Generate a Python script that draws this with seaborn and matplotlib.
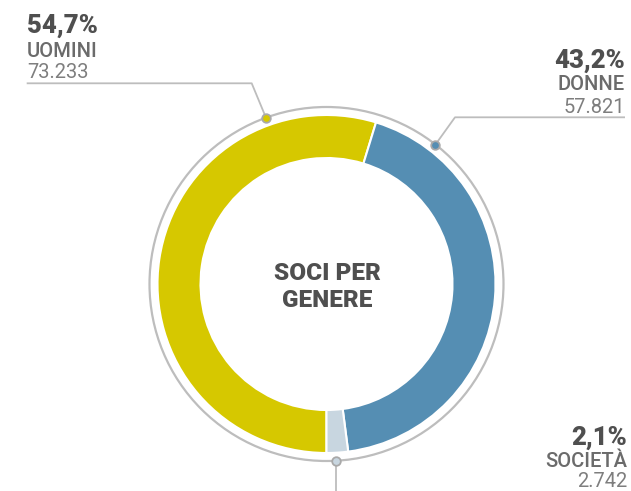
import numpy as np
import matplotlib
matplotlib.use("Agg")
import matplotlib.pyplot as plt
import seaborn as sns

# Soci per genere
categorie = ["UOMINI", "DONNE", "SOCIETÀ"]
soci = [73233, 57821, 2742]
percentuali = ["54,7%", "43,2%", "2,1%"]
numeri = ["73.233", "57.821", "2.742"]
colori = ["#D6C800", "#558EB3", "#C8D6E0"]

sns.set_theme(style="white")
plt.rcParams["font.family"] = ["Roboto", "DejaVu Sans"]

W, H = 631, 491
fig = plt.figure(figsize=(W / 100, H / 100), dpi=100)
ax = fig.add_axes([0, 0, 1, 1])

cx, cy = 326.5, H - 284
r_out, r_in = 169, 126

ax.pie(soci, colors=colori, radius=r_out, center=(cx, cy), startangle=-90,
       counterclock=False, frame=True,
       wedgeprops=dict(width=r_out - r_in, edgecolor="white", linewidth=1.5))
ax.set_xlim(0, W)
ax.set_ylim(0, H)
ax.set_aspect("equal")
ax.axis("off")

# thin outer ring
r_ring = 177
ring = plt.Circle((cx, cy), r_ring, fill=False, edgecolor="#BDBDBD", lw=1.6, zorder=3)
ax.add_patch(ring)

line_col = "#BDBDBD"

def on_ring(deg_cw_from_top):
    a = np.deg2rad(deg_cw_from_top)
    return cx + r_ring * np.sin(a), cy + r_ring * np.cos(a)

# leader lines: (angle on ring, elbow point, end point)
guide = [
    (-20, (251.7, H - 83.3), (26.7, H - 83.3)),
    (38, (455, H - 117.3), (625, H - 117.3)),
    (177, None, None),
]
for (ang, elbow, end), col in zip(guide, colori):
    px, py = on_ring(ang)
    if elbow is not None:
        ax.plot([px, elbow[0], end[0]], [py, elbow[1], end[1]], color=line_col, lw=1.3,
                zorder=2, solid_capstyle="butt")
    else:
        ax.plot([px, px], [py, 0], color=line_col, lw=1.3, zorder=2)
    ax.scatter([px], [py], s=38, color=col, edgecolor="#A9A9A9", linewidth=1.3, zorder=5)

# labels
dark, mid, light = "#4F4F4F", "#6B6B6B", "#7E7E7E"
blocks = [
    (27, "left", (33, 57, 78)),
    (625, "right", (68, 90, 113)),
    (627, "right", (445, 467, 487)),
]
for (x, ha, (b1, b2, b3)), p, c, n in zip(blocks, percentuali, categorie, numeri):
    ax.text(x, H - b1, p, ha=ha, va="baseline", fontsize=18.5, fontweight="black", color=dark)
    ax.text(x, H - b2, c, ha=ha, va="baseline", fontsize=14.5, fontweight="medium", color=mid)
    ax.text(x, H - b3, n, ha=ha, va="baseline", fontsize=14.5, fontweight="normal", color=light)

ax.text(cx + 1, H - 280, "SOCI PER", ha="center", va="baseline", fontsize=17.5,
        fontweight="black", color=dark)
ax.text(cx + 1, H - 307, "GENERE", ha="center", va="baseline", fontsize=17.5,
        fontweight="black", color=dark)

fig.savefig("out.png", dpi=100, facecolor="white")
